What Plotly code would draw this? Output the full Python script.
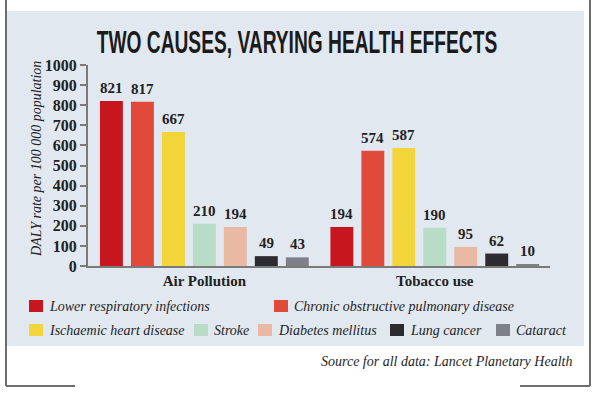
import plotly.graph_objects as go

# ---- data ----
categories = ["Air Pollution", "Tobacco use"]
series_names = [
    "Lower respiratory infections",
    "Chronic obstructive pulmonary disease",
    "Ischaemic heart disease",
    "Stroke",
    "Diabetes mellitus",
    "Lung cancer",
    "Cataract",
]
air_pollution = [821, 817, 667, 210, 194, 49, 43]
tobacco_use = [194, 574, 587, 190, 95, 62, 10]
y_ticks = [0, 100, 200, 300, 400, 500, 600, 700, 800, 900, 1000]

title_text = "TWO CAUSES, VARYING HEALTH EFFECTS"
y_title = "DALY rate per 100 000 population"
source_text = "Source for all data: Lancet Planetary Health"

# ---- styles ----
colors = ["#c8161f", "#df4a3b", "#f1d53b", "#b8dcc5", "#e9b9a3", "#2b2b30", "#7e8088"]
W, H = 600, 396
L, R, T, B = 88, 550, 65, 266  # plot area in pixels
BARGAP = 0.059
SERIF = "Liberation Serif, Times New Roman, serif"
SANS = "Liberation Sans, Arial, sans-serif"
TITLE_CX = 297
TITLE_SCALE = 0.6


def px_x(p):
    return (p - L) / (R - L)


def px_y(p):
    return (B - p) / (B - T)


fig = go.Figure()
n = len(series_names)
for i, name in enumerate(series_names):
    fig.add_trace(go.Bar(
        x=categories,
        y=[air_pollution[i], tobacco_use[i]],
        name=name,
        marker=dict(color=colors[i], line=dict(width=0)),
        showlegend=False,
        hoverinfo="x+y+name",
    ))

annotations = []
# value labels, positioned through the category axis
slot = (1 - BARGAP) / n
for gi, vals in enumerate([air_pollution, tobacco_use]):
    for i, v in enumerate(vals):
        annotations.append(dict(
            x=gi + (i - (n - 1) / 2) * slot, y=v, xref="x", yref="y",
            text=str(v), showarrow=False, yanchor="bottom", yshift=3,
            font=dict(family=SERIF, size=15, color="#222222", weight="bold"),
        ))

# title
annotations.append(dict(
    x=px_x(TITLE_CX), y=px_y(42), xref="paper", yref="paper",
    text=title_text, showarrow=False,
    xanchor="center", yanchor="middle",
    font=dict(family=SANS, size=32, color="#1b1b1b", weight="bold"),
))
# y-axis title
annotations.append(dict(
    x=px_x(36), y=px_y(159), xref="paper", yref="paper",
    text="<i>%s</i>" % y_title, showarrow=False, textangle=-90,
    xanchor="center", yanchor="middle",
    font=dict(family=SERIF, size=14, color="#222222"),
))
# source
annotations.append(dict(
    x=px_x(574), y=px_y(361), xref="paper", yref="paper",
    text="<i>%s</i>" % source_text, showarrow=False,
    xanchor="right", yanchor="middle",
    font=dict(family=SERIF, size=14, color="#1e1e1e"),
))

shapes = []
# panel background
shapes.append(dict(
    type="rect", xref="paper", yref="paper", layer="below",
    x0=px_x(7), x1=px_x(584), y0=px_y(346), y1=px_y(11),
    fillcolor="#e2e8f0", line=dict(width=0),
))
# frame lines
for (x0, y0, x1, y1) in [(6, 0, 6, 386), (6, 386, 75, 386), (590, 0, 590, 386), (520, 386, 590, 386)]:
    shapes.append(dict(
        type="line", xref="paper", yref="paper",
        x0=px_x(x0), x1=px_x(x1), y0=px_y(y0), y1=px_y(y1),
        line=dict(color="#6e6e6e", width=2),
    ))

# legend (built from series names and colours)
legend_pos = [(29, 306), (274, 306), (29, 330), (194, 330), (258, 330), (390, 330), (496, 330)]
for i, name in enumerate(series_names):
    sx, sy = legend_pos[i]
    shapes.append(dict(
        type="rect", xref="paper", yref="paper",
        x0=px_x(sx), x1=px_x(sx + 14), y0=px_y(sy + 6), y1=px_y(sy - 6),
        fillcolor=colors[i], line=dict(width=0),
    ))
    annotations.append(dict(
        x=px_x(sx + 18), y=px_y(sy), xref="paper", yref="paper",
        text="<i>%s</i>" % name, showarrow=False,
        xanchor="left", yanchor="middle",
        font=dict(family=SERIF, size=14, color="#1e1e1e"),
    ))

fig.update_layout(
    width=W, height=H,
    margin=dict(l=L, r=W - R, t=T, b=H - B, pad=0),
    paper_bgcolor="#ffffff",
    plot_bgcolor="rgba(0,0,0,0)",
    barmode="group",
    bargap=BARGAP,
    bargroupgap=0.26,
    showlegend=False,
    annotations=annotations,
    shapes=shapes,
    xaxis=dict(
        type="category", range=[-0.505, 1.5],
        showline=True, linecolor="#7a7a7a", linewidth=2,
        ticks="", showgrid=False, zeroline=False,
        tickfont=dict(family=SERIF, size=15, color="#222222", weight="bold"),
        fixedrange=True,
    ),
    yaxis=dict(
        range=[0, 1000], tickvals=y_ticks,
        showline=True, linecolor="#7a7a7a", linewidth=2,
        ticks="outside", ticklen=6, tickcolor="#7a7a7a", tickwidth=1.5,
        showgrid=False, zeroline=False,
        tickfont=dict(family=SERIF, size=16, color="#222222", weight="bold"),
        fixedrange=True,
    ),
)

post_js = """
document.body.style.margin = '0';
var gd = document.getElementById('{plot_id}');
gd.querySelectorAll('g.annotation').forEach(function (a) {
  var t = a.querySelector('text');
  if (t && t.textContent.indexOf('%s') === 0) {
    a.setAttribute('transform', 'translate(%d,0) scale(%s,1) translate(%d,0)');
  }
});
""" % (title_text[:10], TITLE_CX, TITLE_SCALE, -TITLE_CX)

fig.write_html("out.html", post_script=post_js, config={"displayModeBar": False})
